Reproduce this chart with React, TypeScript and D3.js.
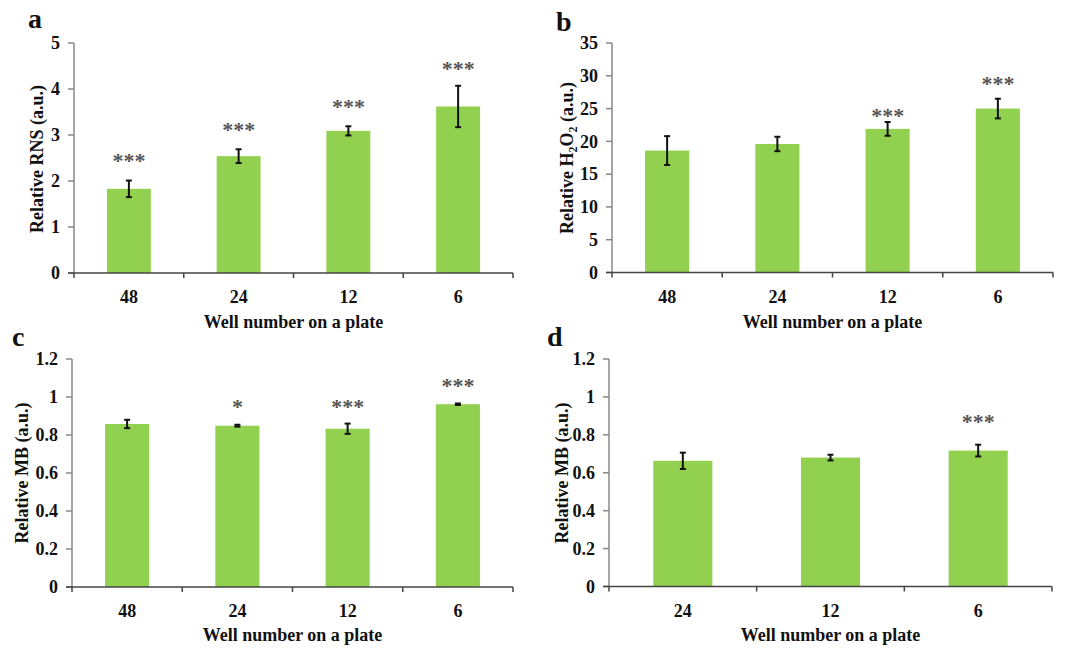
import React from "react";
import * as d3 from "d3";

// ---------- data ----------
const wellsABC = ["48", "24", "12", "6"];
const wellsD = ["24", "12", "6"];

const rnsMean = [1.83, 2.54, 3.09, 3.62];
const rnsErr = [0.18, 0.15, 0.1, 0.45];
const rnsSig = ["***", "***", "***", "***"];
const rnsSigLevel = [2.51, 3.18, 3.67, 4.49];
const rnsTicks = [0, 1, 2, 3, 4, 5];

const h2o2Mean = [18.6, 19.6, 21.9, 25.0];
const h2o2Err = [2.2, 1.1, 1.05, 1.5];
const h2o2Sig = ["", "", "***", "***"];
const h2o2SigLevel = [0, 0, 24.4, 29.2];
const h2o2Ticks = [0, 5, 10, 15, 20, 25, 30, 35];

const mbCMean = [0.858, 0.849, 0.833, 0.962];
const mbCErr = [0.022, 0.005, 0.027, 0.004];
const mbCSig = ["", "*", "***", "***"];
const mbCSigLevel = [0, 0.963, 0.963, 1.072];

const mbDMean = [0.663, 0.68, 0.717];
const mbDErr = [0.043, 0.015, 0.031];
const mbDSig = ["", "", "***"];
const mbDSigLevel = [0, 0, 0.884];

const mbTicks = [0, 0.2, 0.4, 0.6, 0.8, 1.0, 1.2];

const xTitle = "Well number on a plate";

// ---------- style ----------
const FONT = "'Liberation Serif', 'Times New Roman', serif";
const GREEN = "#92D050";

type PanelProps = {
  letter: string;
  cats: string[];
  mean: number[];
  err: number[];
  sig: string[];
  sigLevel: number[];
  ticks: number[];
  yLabel: React.ReactNode;
  box: { x0: number; x1: number; yBase: number; yTop: number };
  letterPos: [number, number];
  yLabelPos: [number, number];
  xTitleY: number;
};

function Panel(p: PanelProps) {
  const { x0, x1, yBase, yTop } = p.box;
  const x = d3
    .scaleBand<string>()
    .domain(p.cats)
    .range([x0, x1])
    .paddingInner(0.6)
    .paddingOuter(0.3);
  const y = d3
    .scaleLinear()
    .domain([0, p.ticks[p.ticks.length - 1]])
    .range([yBase, yTop]);
  const step = x.step();
  const bounds = d3.range(p.cats.length + 1).map((i) => x0 + i * step);
  const fmt = (v: number) => String(+v.toFixed(1));
  const cx = (c: string) => (x(c) as number) + x.bandwidth() / 2;
  const xMid = (x0 + x1) / 2;

  return (
    <g>
      <text
        x={p.letterPos[0]}
        y={p.letterPos[1]}
        fontFamily={FONT}
        fontWeight="bold"
        fontSize={28}
        fill="#111"
      >
        {p.letter}
      </text>
      {p.cats.map((c, i) => (
        <rect
          key={"b" + c}
          x={x(c)}
          y={y(p.mean[i])}
          width={x.bandwidth()}
          height={yBase - y(p.mean[i])}
          fill={GREEN}
        />
      ))}
      {p.cats.map((c, i) => {
        const hi = y(p.mean[i] + p.err[i]);
        const lo = y(p.mean[i] - p.err[i]);
        const xc = cx(c);
        return (
          <g key={"e" + c} stroke="#111" strokeWidth={2}>
            <line x1={xc} x2={xc} y1={hi} y2={lo} />
            <line x1={xc - 3} x2={xc + 3} y1={hi} y2={hi} />
            <line x1={xc - 3} x2={xc + 3} y1={lo} y2={lo} />
          </g>
        );
      })}
      {p.cats.map((c, i) =>
        p.sig[i] ? (
          <text
            key={"s" + c}
            x={cx(c)}
            y={y(p.sigLevel[i]) + 10}
            textAnchor="middle"
            fontFamily={FONT}
            fontWeight="bold"
            fontSize={22}
            fill="#555"
          >
            {p.sig[i]}
          </text>
        ) : null
      )}
      <line x1={x0} x2={x0} y1={yTop} y2={yBase} stroke="#888" strokeWidth={1.5} />
      {p.ticks.map((t) => (
        <g key={"t" + t}>
          <line x1={x0 - 6} x2={x0} y1={y(t)} y2={y(t)} stroke="#888" strokeWidth={1.5} />
          <text
            x={x0 - 14}
            y={y(t)}
            dy="0.35em"
            textAnchor="end"
            fontFamily={FONT}
            fontWeight="bold"
            fontSize={18}
            fill="#111"
          >
            {fmt(t)}
          </text>
        </g>
      ))}
      <line x1={x0 - 6} x2={x1} y1={yBase} y2={yBase} stroke="#444" strokeWidth={1.5} />
      {bounds.map((b, i) => (
        <line
          key={"xb" + i}
          x1={b}
          x2={b}
          y1={yBase}
          y2={yBase + 5}
          stroke="#444"
          strokeWidth={1.5}
        />
      ))}
      {p.cats.map((c) => (
        <text
          key={"xl" + c}
          x={cx(c)}
          y={yBase + 30}
          textAnchor="middle"
          fontFamily={FONT}
          fontWeight="bold"
          fontSize={18}
          fill="#111"
        >
          {c}
        </text>
      ))}
      <text
        x={xMid}
        y={p.xTitleY}
        textAnchor="middle"
        fontFamily={FONT}
        fontWeight="bold"
        fontSize={18}
        fill="#111"
      >
        {xTitle}
      </text>
      <text
        transform={`translate(${p.yLabelPos[0]},${p.yLabelPos[1]}) rotate(-90)`}
        textAnchor="middle"
        fontFamily={FONT}
        fontWeight="bold"
        fontSize={18}
        fill="#111"
      >
        {p.yLabel}
      </text>
    </g>
  );
}

export default function App() {
  return (
    <svg
      width={1077}
      height={648}
      style={{ position: "absolute", left: 0, top: 0, background: "#fff" }}
    >
      <rect width={1077} height={648} fill="#fff" />
      <Panel
        letter="a"
        cats={wellsABC}
        mean={rnsMean}
        err={rnsErr}
        sig={rnsSig}
        sigLevel={rnsSigLevel}
        ticks={rnsTicks}
        yLabel="Relative RNS (a.u.)"
        box={{ x0: 74, x1: 513, yBase: 273, yTop: 43 }}
        letterPos={[28, 28]}
        yLabelPos={[43, 159]}
        xTitleY={328}
      />
      <Panel
        letter="b"
        cats={wellsABC}
        mean={h2o2Mean}
        err={h2o2Err}
        sig={h2o2Sig}
        sigLevel={h2o2SigLevel}
        ticks={h2o2Ticks}
        yLabel={
          <>
            Relative H
            <tspan fontSize={12} dy={4}>2</tspan>
            <tspan dy={-4}>O</tspan>
            <tspan fontSize={12} dy={4}>2</tspan>
            <tspan dy={-4}> (a.u.)</tspan>
          </>
        }
        box={{ x0: 612, x1: 1053, yBase: 272.5, yTop: 43 }}
        letterPos={[556, 31]}
        yLabelPos={[573, 158]}
        xTitleY={328}
      />
      <Panel
        letter="c"
        cats={wellsABC}
        mean={mbCMean}
        err={mbCErr}
        sig={mbCSig}
        sigLevel={mbCSigLevel}
        ticks={mbTicks}
        yLabel="Relative MB (a.u.)"
        box={{ x0: 72, x1: 513, yBase: 587, yTop: 359 }}
        letterPos={[12, 346]}
        yLabelPos={[28, 473]}
        xTitleY={641}
      />
      <Panel
        letter="d"
        cats={wellsD}
        mean={mbDMean}
        err={mbDErr}
        sig={mbDSig}
        sigLevel={mbDSigLevel}
        ticks={mbTicks}
        yLabel="Relative MB (a.u.)"
        box={{ x0: 609, x1: 1052, yBase: 586.5, yTop: 359 }}
        letterPos={[547, 346]}
        yLabelPos={[568, 473]}
        xTitleY={641}
      />
    </svg>
  );
}
